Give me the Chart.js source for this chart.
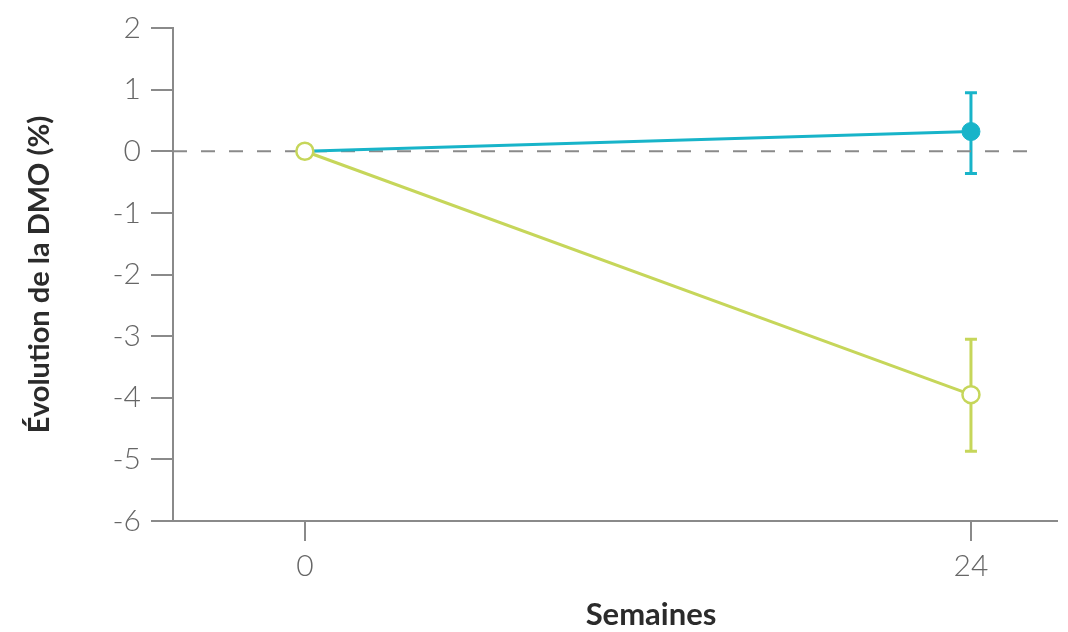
<!DOCTYPE html>
<html>
<head>
<meta charset="utf-8">
<script src="https://cdn.jsdelivr.net/npm/chart.js@4"></script>
<style>
  html, body { margin: 0; padding: 0; background: #ffffff; }
  #wrap { width: 1068px; height: 632px; }
</style>
</head>
<body>
<div id="wrap"><canvas id="c" width="1068" height="632"></canvas></div>
<script>
// ---- data ----
const weeks = [0, 24];
const tealValues = [0, 0.32];
const tealUpper = [null, 0.95];
const tealLower = [null, -0.36];
const greenValues = [0, -3.95];
const greenUpper = [null, -3.05];
const greenLower = [null, -4.87];
const yTickValues = [-6, -5, -4, -3, -2, -1, 0, 1, 2];
const xTickValues = [0, 24];
const refLineX = [-4.75, 26.45];
const refLineY = [0, 0];
const yTitle = 'Évolution de la DMO (%)';
const xTitle = 'Semaines';

const TEAL = '#18b4c9';
const GREEN = '#c6d65a';
const AXIS = '#8a8a8a';

const toPts = (xs, ys) => xs.map((x, i) => ({ x: x, y: ys[i] }));

const errorBars = {
  id: 'errorBars',
  beforeDatasetsDraw(chart) {
    const ctx = chart.ctx;
    const xs = chart.scales.x, ys = chart.scales.y;
    const sets = [
      { up: tealUpper, lo: tealLower, color: TEAL },
      { up: greenUpper, lo: greenLower, color: GREEN }
    ];
    ctx.save();
    ctx.lineWidth = 3;
    sets.forEach(s => {
      ctx.strokeStyle = s.color;
      weeks.forEach((w, i) => {
        if (s.up[i] == null) return;
        const px = xs.getPixelForValue(w);
        const pu = ys.getPixelForValue(s.up[i]);
        const pl = ys.getPixelForValue(s.lo[i]);
        ctx.beginPath();
        ctx.moveTo(px, pu); ctx.lineTo(px, pl);
        ctx.moveTo(px - 6, pu); ctx.lineTo(px + 6, pu);
        ctx.moveTo(px - 6, pl); ctx.lineTo(px + 6, pl);
        ctx.stroke();
      });
    });
    ctx.restore();
  }
};

const xTitlePlugin = {
  id: 'xTitlePlugin',
  afterDraw(chart) {
    const ctx = chart.ctx;
    const a = chart.chartArea;
    ctx.save();
    ctx.font = 'bold 31px Lato';
    ctx.fillStyle = '#2b2b2b';
    ctx.textAlign = 'center';
    ctx.textBaseline = 'middle';
    ctx.fillText(xTitle, (a.left + a.right) / 2 + 36, 615);
    ctx.restore();
  }
};

new Chart(document.getElementById('c'), {
  type: 'line',
  data: {
    datasets: [
      {
        label: 'green',
        data: toPts(weeks, greenValues),
        borderColor: GREEN,
        borderWidth: 3,
        pointRadius: 8.5,
        pointBorderWidth: 2.5,
        pointBackgroundColor: '#ffffff',
        pointBorderColor: GREEN,
        order: 0
      },
      {
        label: 'teal',
        data: toPts(weeks, tealValues),
        borderColor: TEAL,
        borderWidth: 3,
        pointRadius: [0, 9],
        pointBorderWidth: 1,
        pointBackgroundColor: TEAL,
        pointBorderColor: TEAL,
        order: 1
      },
      {
        label: 'ref',
        data: toPts(refLineX, refLineY),
        borderColor: '#8a8a8a',
        borderWidth: 2,
        borderDash: [14, 14],
        pointRadius: 0,
        order: 2
      }
    ]
  },
  plugins: [errorBars, xTitlePlugin],
  options: {
    responsive: false,
    animation: false,
    layout: { padding: { top: 25, right: 10, left: 0, bottom: 0 } },
    plugins: { legend: { display: false }, tooltip: { enabled: false } },
    scales: {
      x: {
        type: 'linear',
        position: 'bottom',
        min: -4.75,
        max: 27.1,
        afterBuildTicks: s => { s.ticks = xTickValues.map(v => ({ value: v })); },
        afterFit: s => { s.height = 111; },
        grid: { drawOnChartArea: false, drawTicks: true, tickLength: 20, color: AXIS, lineWidth: 2 },
        border: { display: true, color: AXIS, width: 2 },
        ticks: {
          autoSkip: false,
          maxRotation: 0,
          padding: 7,
          color: '#666666',
          font: { family: 'Lato', size: 30, weight: '300' },
          callback: v => String(v)
        },
        title: { display: false }
      },
      y: {
        type: 'linear',
        min: -6,
        max: 2,
        afterBuildTicks: s => { s.ticks = yTickValues.map(v => ({ value: v })); },
        afterFit: s => { s.width = 173; },
        grid: { drawOnChartArea: false, drawTicks: true, tickLength: 22, color: AXIS, lineWidth: 2 },
        border: { display: true, color: AXIS, width: 2 },
        ticks: {
          autoSkip: false,
          padding: 10,
          color: '#666666',
          font: { family: 'Lato', size: 30, weight: '300' },
          callback: v => String(v)
        },
        title: {
          display: true,
          text: yTitle,
          color: '#2b2b2b',
          font: { family: 'Lato', size: 29, weight: 'bold' },
          padding: { top: 22, bottom: 0 }
        }
      }
    }
  }
});
</script>
</body>
</html>
